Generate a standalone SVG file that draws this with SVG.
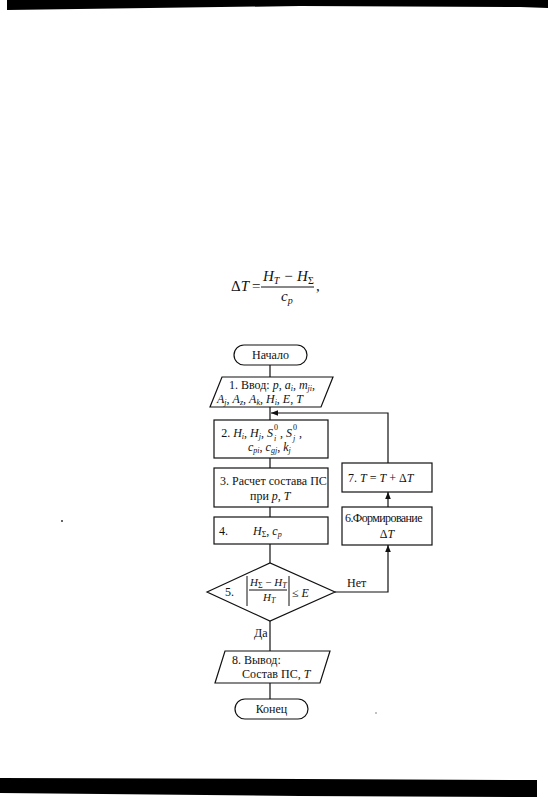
<svg xmlns="http://www.w3.org/2000/svg" width="548" height="799" viewBox="0 0 548 799" font-family="'Liberation Serif', 'Times New Roman', serif">
<defs>
<style>
.s{fill:none;stroke:#111;stroke-width:1.2}
.b{fill:#fff;stroke:#111;stroke-width:1.2}
text{font-family:'Liberation Serif','Times New Roman',serif;fill:#111;font-size:12px}
.i{font-style:italic}
.sub{font-size:8px}
.f{font-size:15px}
.fs{font-size:10px}
.d{font-size:11px}
</style>
<marker id="ah" viewBox="0 0 10 10" refX="10" refY="5" markerWidth="7" markerHeight="7" orient="auto" markerUnits="userSpaceOnUse">
<path d="M0,1 L10,5 L0,9 Z" fill="#111"/>
</marker>
</defs>
<rect width="548" height="799" fill="#fff"/>
<polygon points="7,0 548,0 548,8 520,7 300,6 7,10" fill="#000"/>
<polygon points="0,778 300,779 537,780 537,797 300,796 0,793" fill="#000"/>
<circle cx="62" cy="521" r="1" fill="#333"/>
<circle cx="376" cy="713" r="0.7" fill="#555"/>

<g id="formula">
<text class="f" x="231" y="291">Δ<tspan class="i">T</tspan></text>
<text class="f" x="252" y="291">=</text>
<text class="f i" x="263" y="281">H<tspan class="fs" dy="3">T</tspan><tspan dy="-3"> − H</tspan><tspan class="fs" dy="3" font-style="normal">Σ</tspan></text>
<line x1="261" y1="287" x2="314" y2="287" stroke="#111" stroke-width="1"/>
<text class="f i" x="281" y="301">c<tspan class="fs" dy="3">p</tspan></text>
<text class="f" x="316" y="291">,</text>
</g>

<g id="connectors">
<line class="s" x1="270" y1="365" x2="270" y2="377"/>
<line class="s" x1="270" y1="407" x2="270" y2="420"/>
<line class="s" x1="270" y1="458" x2="270" y2="468"/>
<line class="s" x1="270" y1="507" x2="270" y2="517"/>
<line class="s" x1="270" y1="544" x2="270" y2="563"/>
<line class="s" x1="270" y1="621" x2="270" y2="651"/>
<line class="s" x1="270" y1="683" x2="270" y2="699"/>
<polyline class="s" points="335,592 388,592 388,545" marker-end="url(#ah)"/>
<line class="s" x1="388" y1="507" x2="388" y2="492" marker-end="url(#ah)"/>
<polyline class="s" points="388,463 388,413 271,413" marker-end="url(#ah)"/>
<text x="347" y="587">Нет</text>
<text x="254" y="637">Да</text>
</g>

<g id="start">
<rect class="b" x="234" y="345" width="73" height="20" rx="10"/>
<text x="270.5" y="359" text-anchor="middle">Начало</text>
</g>

<g id="n1">
<polygon class="b" points="222,377 333,377 321,407 210,407"/>
<text x="229" y="389">1.  Ввод: <tspan class="i">p</tspan>, <tspan class="i">a</tspan><tspan class="sub i" dy="2">i</tspan><tspan dy="-2">, </tspan><tspan class="i">m</tspan><tspan class="sub i" dy="2">ji</tspan><tspan dy="-2">,</tspan></text>
<text x="217" y="403"><tspan class="i">A</tspan><tspan class="sub i" dy="2">j</tspan><tspan dy="-2">, </tspan><tspan class="i">A</tspan><tspan class="sub i" dy="2">z</tspan><tspan dy="-2">, </tspan><tspan class="i">A</tspan><tspan class="sub i" dy="2">k</tspan><tspan dy="-2">, </tspan><tspan class="i">H</tspan><tspan class="sub i" dy="2">i</tspan><tspan dy="-2">, </tspan><tspan class="i">E</tspan>, <tspan class="i">T</tspan></text>
</g>

<g id="n2">
<rect class="b" x="214" y="420" width="114" height="38"/>
<text x="273" y="437" text-anchor="end">2.  <tspan class="i">H</tspan><tspan class="sub i" dy="2">i</tspan><tspan dy="-2">, </tspan><tspan class="i">H</tspan><tspan class="sub i" dy="2">j</tspan><tspan dy="-2">, </tspan><tspan class="i">S</tspan></text>
<text class="sub" x="274" y="430">0</text>
<text class="sub i" x="274" y="441">i</text>
<text x="292" y="437" text-anchor="end">, <tspan class="i">S</tspan></text>
<text class="sub" x="293" y="430">0</text>
<text class="sub i" x="293" y="441">j</text>
<text x="299" y="437">,</text>
<text x="248" y="451"><tspan class="i">c</tspan><tspan class="sub i" dy="2">pi</tspan><tspan dy="-2">, </tspan><tspan class="i">c</tspan><tspan class="sub i" dy="2">gj</tspan><tspan dy="-2">, </tspan><tspan class="i">k</tspan><tspan class="sub i" dy="2">j</tspan></text>
</g>

<g id="n3">
<rect class="b" x="214" y="468" width="114" height="39"/>
<text x="220" y="485">3. Расчет состава  ПС</text>
<text x="250" y="500">при <tspan class="i">p</tspan>, <tspan class="i">T</tspan></text>
</g>

<g id="n4">
<rect class="b" x="214" y="517" width="114" height="27"/>
<text x="219" y="535">4.</text>
<text x="253" y="535"><tspan class="i">H</tspan><tspan class="sub" dy="2">Σ</tspan><tspan dy="-2">, </tspan><tspan class="i">c</tspan><tspan class="sub i" dy="2">p</tspan></text>
</g>

<g id="n5">
<polygon class="b" points="207,592 270,563 335,592 270,621"/>
<text x="225" y="596">5.</text>
<line x1="247" y1="576" x2="247" y2="606" stroke="#111" stroke-width="1"/>
<line x1="289" y1="576" x2="289" y2="606" stroke="#111" stroke-width="1"/>
<text class="d" x="250" y="586"><tspan class="i">H</tspan><tspan class="sub" dy="2">Σ</tspan><tspan dy="-2"> − </tspan><tspan class="i">H</tspan><tspan class="sub i" dy="2">T</tspan></text>
<line x1="249" y1="590" x2="287" y2="590" stroke="#111" stroke-width="1"/>
<text class="d" x="263" y="601"><tspan class="i">H</tspan><tspan class="sub i" dy="2">T</tspan></text>
<text x="292" y="597">≤ <tspan class="i">E</tspan></text>
</g>

<g id="n6">
<rect class="b" x="342" y="507" width="90" height="38"/>
<text x="345" y="522" letter-spacing="-0.6">6.Формирование</text>
<text x="387" y="538" text-anchor="middle">Δ<tspan class="i">T</tspan></text>
</g>

<g id="n7">
<rect class="b" x="342" y="463" width="90" height="29"/>
<text x="348" y="482">7.   <tspan class="i">T</tspan> = <tspan class="i">T</tspan> + Δ<tspan class="i">T</tspan></text>
</g>

<g id="n8">
<polygon class="b" points="225,651 330,651 320,683 215,683"/>
<text x="232" y="664">8.   Вывод:</text>
<text x="242" y="678">Состав ПС, <tspan class="i">T</tspan></text>
</g>

<g id="end">
<rect class="b" x="235" y="699" width="73" height="20" rx="10"/>
<text x="271.5" y="713" text-anchor="middle">Конец</text>
</g>
</svg>
